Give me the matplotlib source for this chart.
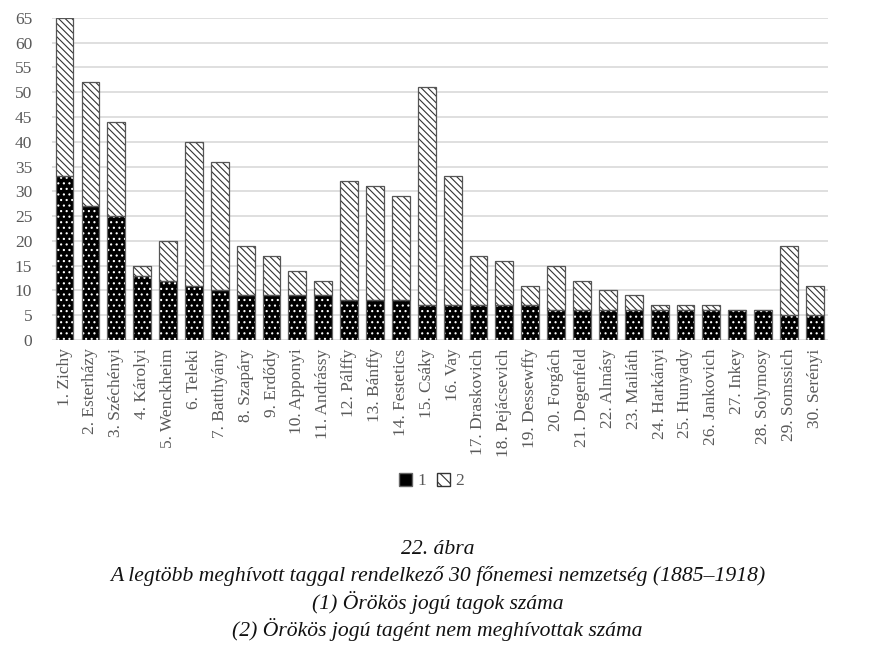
import numpy as np
import matplotlib.pyplot as plt
from matplotlib.patches import Patch

families = ["1. Zichy", "2. Esterházy", "3. Széchényi", "4. Károlyi", "5. Wenckheim",
            "6. Teleki", "7. Batthyány", "8. Szapáry", "9. Erdődy", "10. Apponyi",
            "11. Andrássy", "12. Pálffy", "13. Bánffy", "14. Festetics", "15. Csáky",
            "16. Vay", "17. Draskovich", "18. Pejácsevich", "19. Dessewffy", "20. Forgách",
            "21. Degenfeld", "22. Almásy", "23. Mailáth", "24. Harkányi", "25. Hunyady",
            "26. Jankovich", "27. Inkey", "28. Solymosy", "29. Somssich", "30. Serényi"]
hereditary = [33, 27, 25, 13, 12, 11, 10, 9, 9, 9, 9, 8, 8, 8, 7,
              7, 7, 7, 7, 6, 6, 6, 6, 6, 6, 6, 6, 6, 5, 5]
not_hereditary = [32, 25, 19, 2, 8, 29, 26, 10, 8, 5, 3, 24, 23, 21, 44,
                  26, 10, 9, 4, 9, 6, 4, 3, 1, 1, 1, 0, 0, 14, 6]
yticks = list(range(0, 70, 5))

plt.rcParams['hatch.linewidth'] = 0.8
serif = ['Liberation Serif', 'DejaVu Serif']

fig = plt.figure(figsize=(8.75, 6.59), dpi=100)
ax = fig.add_axes([0.059, 0.484, 0.887, 0.489])

x = np.arange(len(families))
w = 0.69
s1 = np.array(hereditary)
s2 = np.array(not_hereditary)

# series 1: black with white dots
ax.bar(x, s1, w, color='black', edgecolor='white', hatch='...', linewidth=0, zorder=3)
ax.bar(x, s1, w, fill=False, edgecolor='#666666', linewidth=0.9, zorder=4)
# series 2: white with diagonal lines
ax.bar(x, s2, w, bottom=s1, color='white', edgecolor='#333333', hatch='\\\\\\\\\\', linewidth=0, zorder=3)
ax.bar(x, s2, w, bottom=s1, fill=False, edgecolor='#555555', linewidth=0.9, zorder=4)

ax.set_xlim(-0.5, len(families) - 0.5)
ax.set_ylim(0, 65)
ax.set_yticks(yticks)
ax.yaxis.grid(True, color='#d9d9d9', linewidth=1.2, zorder=0)
ax.set_axisbelow(True)
for s in ax.spines.values():
    s.set_visible(False)
ax.tick_params(axis='both', length=0, colors='#595959', labelsize=12.5)
ax.tick_params(axis='y', pad=14)
ax.tick_params(axis='x', pad=6)
ax.set_xticks(x)
ax.set_xticklabels(families, rotation=90, family=serif)
for lab in ax.get_yticklabels():
    lab.set_family(serif)

h1 = Patch(facecolor='black', edgecolor='#666666', label='1')
h2 = Patch(facecolor='white', edgecolor='#333333', hatch='\\\\\\', label='2')
fig.legend(handles=[h1, h2], loc='center', bbox_to_anchor=(0.493, 0.27), ncol=2,
           frameon=False, handlelength=0.75, handleheight=0.75, handletextpad=0.3,
           columnspacing=0.6, prop={'family': serif, 'size': 12.5}, labelcolor='#595959')

caption = ["22. ábra",
           "A legtöbb meghívott taggal rendelkező 30 főnemesi nemzetség (1885–1918)",
           "(1) Örökös jogú tagok száma",
           "(2) Örökös jogú tagént nem meghívottak száma"]
for i, line in enumerate(caption):
    fig.text(0.5, 1 - (550 + i * 26.5) / 659, line, ha='center', va='center',
             style='italic', fontsize=15.6, family=serif, color='#111111')

fig.savefig('out.png', dpi=100)
